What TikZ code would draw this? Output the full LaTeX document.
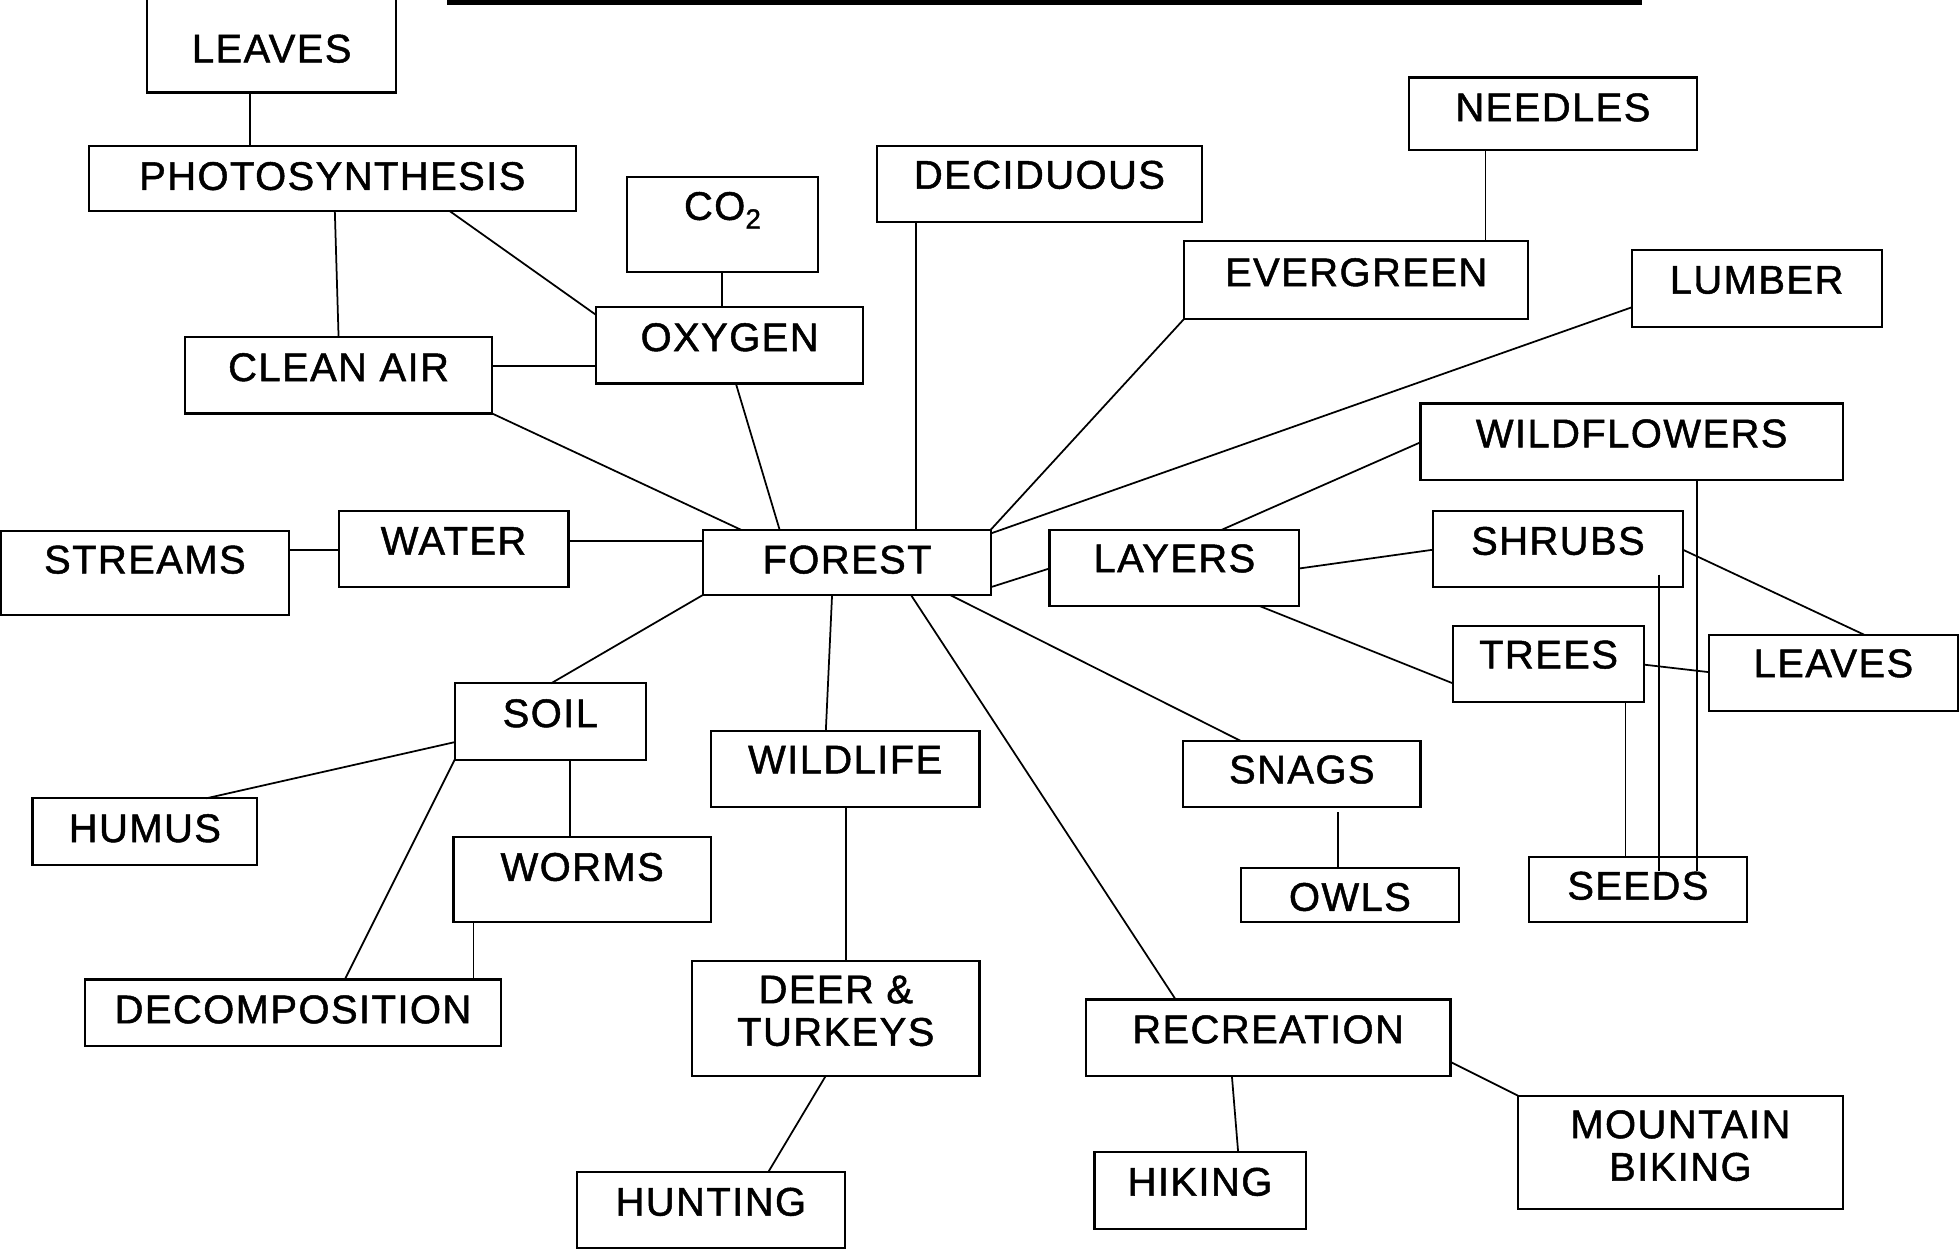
\documentclass[tikz,border=0pt]{standalone}
\usepackage{fontspec}
\setmainfont[LetterSpace=3.5,FakeBold=1.2]{Liberation Sans}
\usetikzlibrary{calc}
\newcommand\twoline[2]{\vbox{\baselineskip=34pt\halign{\hfil##\hfil\cr#1\cr#2\cr}}}
\newcommand\mkbox[7]{%
  \pgfmathsetmacro\bw{#4-#2}\pgfmathsetmacro\bh{#5-#3}%
  \pgfmathsetmacro\ta{#6-#3}\pgfmathsetmacro\tb{#5-#6}%
  \node[box, minimum width=\bw pt, minimum height=\bh pt, text height=\ta pt, text depth=\tb pt] (#1) at (#2,#3) {#7};}
\tikzset{
  box/.style={draw, line width=1.7pt, inner sep=0pt, outer sep=0pt, anchor=north west,
    font=\fontsize{32}{34}\selectfont},
  conn/.style={line width=1.4pt},
}
\begin{document}
\begin{tikzpicture}[x=1pt,y=-1pt]
\useasboundingbox (0,0) rectangle (1568,1000);
\fill[white] (0,0) rectangle (1568,1000);
\draw[line width=4.5pt] (358,1.5) -- (1314,1.5);
% boxes
\mkbox{leavesA}{118}{-20}{317}{74}{50}{LEAVES}
\mkbox{photo}{71}{117}{461}{169}{152}{PHOTOSYNTHESIS}
\mkbox{co2}{502}{142}{655}{218}{176}{CO\textsubscript{2}}
\mkbox{decid}{702}{117}{962}{178}{151}{DECIDUOUS}
\mkbox{needles}{1128}{62}{1358}{120}{97}{NEEDLES}
\mkbox{everg}{948}{193}{1223}{255}{229}{EVERGREEN}
\mkbox{lumber}{1306}{200}{1506}{262}{235}{LUMBER}
\mkbox{oxygen}{477}{246}{691}{307}{281}{OXYGEN}
\mkbox{clean}{148}{270}{394}{331}{305}{CLEAN AIR}
\mkbox{wildfl}{1137}{323}{1475}{384}{358}{WILDFLOWERS}
\mkbox{streams}{1}{425}{231}{492}{459}{STREAMS}
\mkbox{water}{271}{409}{455}{470}{444}{WATER}
\mkbox{forest}{563}{424}{793}{476}{459}{FOREST}
\mkbox{layers}{840}{424}{1040}{485}{458}{LAYERS}
\mkbox{shrubs}{1147}{409}{1347}{470}{444}{SHRUBS}
\mkbox{trees}{1163}{501}{1316}{562}{535}{TREES}
\mkbox{leavesB}{1368}{508}{1567}{569}{542}{LEAVES}
\mkbox{soil}{364}{547}{517}{608}{582}{SOIL}
\mkbox{wildlife}{569}{585}{784}{646}{619}{WILDLIFE}
\mkbox{snags}{947}{593}{1137}{646}{627}{SNAGS}
\mkbox{humus}{26}{639}{206}{692}{674}{HUMUS}
\mkbox{worms}{363}{670}{569}{738}{705}{WORMS}
\mkbox{owls}{993}{695}{1168}{738}{729}{OWLS}
\mkbox{seeds}{1224}{686}{1398}{738}{720}{SEEDS}
\mkbox{decomp}{68}{784}{401}{837}{819}{DECOMPOSITION}
\mkbox{deer}{554}{769}{784}{861}{837}{\twoline{DEER \&}{TURKEYS}}
\mkbox{recre}{869}{800}{1161}{861}{835}{RECREATION}
\mkbox{hunting}{462}{938}{676}{999}{973}{HUNTING}
\mkbox{hiking}{876}{922}{1045}{984}{957}{HIKING}
\mkbox{mbike}{1215}{877}{1475}{968}{945}{\twoline{MOUNTAIN}{BIKING}}
% connectors
\begin{scope}[conn]
\draw (leavesA.south -| 200,0) -- (photo.north -| 200,0);
\draw (photo.south -| 268,0) -- (clean.north -| 271,0);
\draw (photo.south -| 360,0) -- (oxygen.west |- 0,252);
\draw (co2.south -| 578,0) -- (oxygen.north -| 578,0);
\draw (clean.east |- 0,293) -- (oxygen.west |- 0,293);
\draw (clean.south east) -- (forest.north -| 593,0);
\draw (oxygen.south -| 589,0) -- (forest.north -| 624,0);
\draw (decid.south -| 733,0) -- (forest.north -| 733,0);
\draw (needles.south -| 1189,0) -- (everg.north -| 1189,0);
\draw (everg.south west) -- (forest.north east);
\draw (lumber.west |- 0,246) -- (forest.east |- 0,427);
\draw (wildfl.west |- 0,354) -- (layers.north -| 978,0);
\draw (forest.east |- 0,470) -- (layers.west |- 0,455);
\draw (layers.east |- 0,455) -- (shrubs.west |- 0,440);
\draw (layers.south -| 1008,0) -- (trees.west |- 0,547);
\draw (shrubs.east |- 0,440) -- (leavesB.north -| 1492,0);
\draw (trees.east |- 0,532) -- (leavesB.west |- 0,538);
\draw (trees.south -| 1301,0) -- (seeds.north -| 1301,0);
\draw ($(shrubs.south -| 1328,0)+(0,-10)$) -- ($(seeds.north -| 1328,0)+(0,11)$);
\draw (wildfl.south -| 1358,0) -- ($(seeds.north -| 1358,0)+(0,11)$);
\draw (forest.south -| 760,0) -- (snags.north -| 993,0);
\draw (forest.south -| 729,0) -- (recre.north -| 941,0);
\draw (forest.south -| 666,0) -- (wildlife.north -| 661,0);
\draw (forest.south west) -- (soil.north -| 441,0);
\draw (water.east |- 0,433) -- (forest.west |- 0,433);
\draw (streams.east |- 0,440) -- (water.west |- 0,440);
\draw (soil.west |- 0,594) -- (humus.north -| 165,0);
\draw (soil.south west) -- (decomp.north -| 276,0);
\draw (soil.south -| 456,0) -- (worms.north -| 456,0);
\draw (worms.south -| 379,0) -- (decomp.north -| 379,0);
\draw (wildlife.south -| 677,0) -- (deer.north -| 677,0);
\draw (deer.south -| 661,0) -- (hunting.north -| 615,0);
\draw ($(snags.south -| 1071,0)+(0,4)$) -- (owls.north -| 1071,0);
\draw (recre.south -| 986,0) -- (hiking.north -| 991,0);
\draw (recre.east |- 0,850) -- (mbike.north west);
\end{scope}
\end{tikzpicture}
\end{document}
